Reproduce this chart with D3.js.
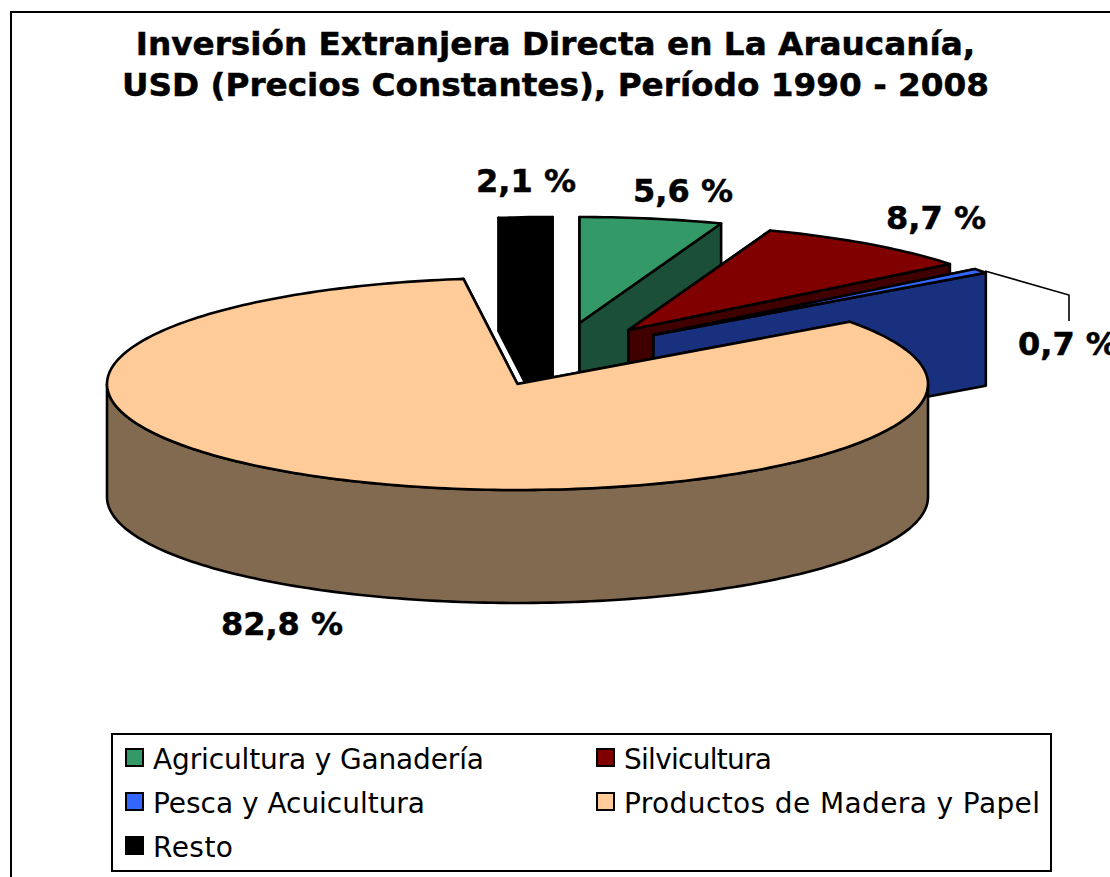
<!DOCTYPE html>
<html>
<head>
<meta charset="utf-8">
<script src="https://cdnjs.cloudflare.com/ajax/libs/d3/7.8.5/d3.min.js"></script>
<style>
  html, body { margin: 0; padding: 0; background: #fff; overflow: hidden; }
  text { font-family: "DejaVu Sans", sans-serif; fill: #000; }
  .title, .value { font-weight: bold; stroke: #000; stroke-width: 0.5px; }
</style>
</head>
<body>
<svg id="chart" width="1110" height="877"></svg>
<script>
const titleLines = ['Inversión Extranjera Directa en La Araucanía,', 'USD (Precios Constantes), Período 1990 - 2008']
const categories = ['Agricultura y Ganadería', 'Silvicultura', 'Pesca y Acuicultura', 'Productos de Madera y Papel', 'Resto']
const values = [5.6, 8.7, 0.7, 82.8, 2.1]

const topColors = ['#339966', '#800000', '#3366ff', '#ffcc99', '#000000']
const sideColors = ['#1c4f38', '#400000', '#19307f', '#826a50', '#000000']

// how far each slice is pulled off the pie, in page pixels
const explode = [[62, -61], [111, -54], [136, -49], [0, 0], [35, -61]]
const labelPos = [[683, 202], [936, 229], [1018, 355], [282, 635], [526, 192]]
// the reference font runs a bit different per string, so fit the legend widths
const legendWidths = [331, 148, 272, 416, 80]

const cx = 517.5
const cy = 384
const rx = 410.5
const ry = 106
const depth = 113
const edge = 2.6

const svg = d3.select('#chart')

svg.append('rect')
  .attr('x', 11).attr('y', 12)
  .attr('width', 1200).attr('height', 1000)
  .attr('fill', '#fff').attr('stroke', '#000').attr('stroke-width', 2)

svg.selectAll('.title')
  .data(titleLines)
  .enter().append('text')
  .attr('class', 'title')
  .attr('x', 555.5)
  .attr('y', (d, i) => 55 + i * 41)
  .attr('text-anchor', 'middle')
  .attr('font-size', 32.7)
  .text(d => d)

const pie = d3.pie().sort(null).value(d => d)
const arcs = pie(values)

const px = (a, off) => cx + off[0] + Math.sin(a) * rx
const py = (a, off) => cy + off[1] - Math.cos(a) * ry

const line = d3.line()

function rim (a0, a1, off, dy) {
  const n = Math.max(2, Math.ceil((a1 - a0) / 0.02))
  return d3.range(n + 1).map(i => {
    const a = a0 + (a1 - a0) * i / n
    return [px(a, off), py(a, off) + dy]
  })
}

function face (g, points, fill) {
  g.append('path')
    .attr('d', line(points) + 'Z')
    .attr('fill', fill)
    .attr('stroke', '#000').attr('stroke-width', edge).attr('stroke-linejoin', 'round')
}

function drawSlice (g, arc, i) {
  const off = explode[i]
  const apex = [cx + off[0], cy + off[1]]
  const a0 = arc.startAngle
  const a1 = arc.endAngle

  // radial faces, the one at the back goes first
  ;[a0, a1].forEach(a => {
    const p = [px(a, off), py(a, off)]
    face(g, [p, apex, [apex[0], apex[1] + depth], [p[0], p[1] + depth]], sideColors[i])
  })

  // outer wall, only the front half of the rim can be seen
  const w0 = Math.max(a0, Math.PI / 2)
  const w1 = Math.min(a1, Math.PI * 1.5)
  if (w1 > w0) {
    face(g, rim(w0, w1, off, 0).concat(rim(w0, w1, off, depth).reverse()), sideColors[i])
  }

  face(g, [apex].concat(rim(a0, a1, off, 0)), topColors[i])
}

// painter order: back slices first, the big one last
const order = [4, 0, 1, 2, 3]
const pieG = svg.append('g')
order.forEach(i => drawSlice(pieG.append('g'), arcs[i], i))

// leader for the small slice
svg.append('path')
  .attr('d', line([[985, 271], [1069, 295], [1069, 321]]))
  .attr('fill', 'none').attr('stroke', '#000').attr('stroke-width', 1.6)

svg.selectAll('.value')
  .data(values)
  .enter().append('text')
  .attr('class', 'value')
  .attr('x', (d, i) => labelPos[i][0])
  .attr('y', (d, i) => labelPos[i][1])
  .attr('text-anchor', (d, i) => i === 2 ? 'start' : 'middle')
  .attr('font-size', 32)
  .text(d => d3.format('.1f')(d).replace('.', ',') + ' %')

// legend
const legend = svg.append('g')
legend.append('rect')
  .attr('x', 112).attr('y', 734)
  .attr('width', 939).attr('height', 137)
  .attr('fill', '#fff').attr('stroke', '#000').attr('stroke-width', 2)

const items = legend.selectAll('.item')
  .data(categories)
  .enter().append('g')
  .attr('class', 'item')
  .attr('transform', (d, i) => `translate(${i % 2 ? 597 : 126},${749 + Math.floor(i / 2) * 44})`)

items.append('rect')
  .attr('width', 17).attr('height', 17)
  .attr('fill', (d, i) => topColors[i])
  .attr('stroke', '#000').attr('stroke-width', 2)

items.append('text')
  .attr('x', 27)
  .attr('y', 20)
  .attr('font-size', 28)
  .attr('textLength', (d, i) => legendWidths[i])
  .text(d => d)
</script>
</body>
</html>
